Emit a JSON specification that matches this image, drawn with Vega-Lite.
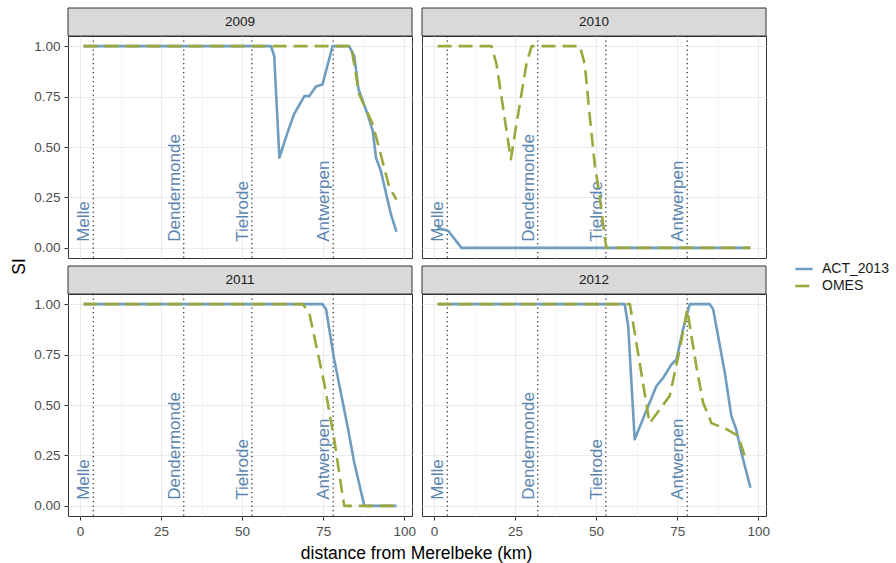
{
  "$schema": "https://vega.github.io/schema/vega-lite/v6.json",
  "background": "white",
  "padding": {"left": 10, "top": 7, "right": 10, "bottom": 5},
  "autosize": {"type": "pad"},
  "config": {
    "font": "Liberation Sans",
    "view": {"stroke": "#333333", "strokeWidth": 1},
    "axis": {"domain": false, "grid": true, "labelFont": "Liberation Sans", "labelFontSize": 13.5, "labelColor": "#4d4d4d", "tickColor": "#333333", "tickSize": 4, "tickWidth": 1, "labelPadding": 4, "labelOverlap": false, "labelFlush": false, "titleFont": "Liberation Sans", "titleFontSize": 17.5, "titleFontWeight": "normal", "titleColor": "#000000"}
  },
  "datasets": {
    "places": [
      {"place": "Melle", "km": 4.1},
      {"place": "Dendermonde", "km": 32.0},
      {"place": "Tielrode", "km": 53.0},
      {"place": "Antwerpen", "km": 78.1}
    ],
    "si": [
      {"year": "2009", "model": "ACT_2013", "km": 1.1, "SI": 1},
      {"year": "2009", "model": "ACT_2013", "km": 58.9, "SI": 1},
      {"year": "2009", "model": "ACT_2013", "km": 59.9, "SI": 0.95},
      {"year": "2009", "model": "ACT_2013", "km": 61.5, "SI": 0.447},
      {"year": "2009", "model": "ACT_2013", "km": 64.0, "SI": 0.571},
      {"year": "2009", "model": "ACT_2013", "km": 66.0, "SI": 0.662},
      {"year": "2009", "model": "ACT_2013", "km": 69.2, "SI": 0.752},
      {"year": "2009", "model": "ACT_2013", "km": 70.7, "SI": 0.752},
      {"year": "2009", "model": "ACT_2013", "km": 72.8, "SI": 0.8},
      {"year": "2009", "model": "ACT_2013", "km": 74.8, "SI": 0.81},
      {"year": "2009", "model": "ACT_2013", "km": 77.9, "SI": 1},
      {"year": "2009", "model": "ACT_2013", "km": 83.0, "SI": 1},
      {"year": "2009", "model": "ACT_2013", "km": 84.6, "SI": 0.95},
      {"year": "2009", "model": "ACT_2013", "km": 85.9, "SI": 0.786},
      {"year": "2009", "model": "ACT_2013", "km": 88.7, "SI": 0.662},
      {"year": "2009", "model": "ACT_2013", "km": 90.3, "SI": 0.579},
      {"year": "2009", "model": "ACT_2013", "km": 91.3, "SI": 0.447},
      {"year": "2009", "model": "ACT_2013", "km": 92.8, "SI": 0.381},
      {"year": "2009", "model": "ACT_2013", "km": 94.7, "SI": 0.249},
      {"year": "2009", "model": "ACT_2013", "km": 95.9, "SI": 0.167},
      {"year": "2009", "model": "ACT_2013", "km": 97.6, "SI": 0.08},
      {"year": "2010", "model": "ACT_2013", "km": 1.1, "SI": 0.1},
      {"year": "2010", "model": "ACT_2013", "km": 4.4, "SI": 0.084},
      {"year": "2010", "model": "ACT_2013", "km": 8.5, "SI": 0},
      {"year": "2010", "model": "ACT_2013", "km": 97.6, "SI": 0},
      {"year": "2011", "model": "ACT_2013", "km": 1.1, "SI": 1},
      {"year": "2011", "model": "ACT_2013", "km": 74.8, "SI": 1},
      {"year": "2011", "model": "ACT_2013", "km": 75.9, "SI": 0.974},
      {"year": "2011", "model": "ACT_2013", "km": 78.4, "SI": 0.726},
      {"year": "2011", "model": "ACT_2013", "km": 82.5, "SI": 0.396},
      {"year": "2011", "model": "ACT_2013", "km": 84.6, "SI": 0.214},
      {"year": "2011", "model": "ACT_2013", "km": 85.1, "SI": 0.18},
      {"year": "2011", "model": "ACT_2013", "km": 87.7, "SI": 0},
      {"year": "2011", "model": "ACT_2013", "km": 97.6, "SI": 0},
      {"year": "2012", "model": "ACT_2013", "km": 1.1, "SI": 1},
      {"year": "2012", "model": "ACT_2013", "km": 58.8, "SI": 1},
      {"year": "2012", "model": "ACT_2013", "km": 59.9, "SI": 0.89},
      {"year": "2012", "model": "ACT_2013", "km": 61.9, "SI": 0.33},
      {"year": "2012", "model": "ACT_2013", "km": 68.6, "SI": 0.594},
      {"year": "2012", "model": "ACT_2013", "km": 70.7, "SI": 0.635},
      {"year": "2012", "model": "ACT_2013", "km": 73.2, "SI": 0.7},
      {"year": "2012", "model": "ACT_2013", "km": 74.8, "SI": 0.726},
      {"year": "2012", "model": "ACT_2013", "km": 76.8, "SI": 0.874},
      {"year": "2012", "model": "ACT_2013", "km": 78.9, "SI": 1},
      {"year": "2012", "model": "ACT_2013", "km": 85.0, "SI": 1},
      {"year": "2012", "model": "ACT_2013", "km": 86.1, "SI": 0.975},
      {"year": "2012", "model": "ACT_2013", "km": 89.7, "SI": 0.66},
      {"year": "2012", "model": "ACT_2013", "km": 91.7, "SI": 0.446},
      {"year": "2012", "model": "ACT_2013", "km": 93.2, "SI": 0.38},
      {"year": "2012", "model": "ACT_2013", "km": 94.8, "SI": 0.264},
      {"year": "2012", "model": "ACT_2013", "km": 97.6, "SI": 0.09},
      {"year": "2009", "model": "OMES", "km": 1.1, "SI": 1},
      {"year": "2009", "model": "OMES", "km": 83.6, "SI": 1},
      {"year": "2009", "model": "OMES", "km": 84.6, "SI": 0.909},
      {"year": "2009", "model": "OMES", "km": 86.1, "SI": 0.761},
      {"year": "2009", "model": "OMES", "km": 90.3, "SI": 0.613},
      {"year": "2009", "model": "OMES", "km": 93.3, "SI": 0.43},
      {"year": "2009", "model": "OMES", "km": 95.4, "SI": 0.3},
      {"year": "2009", "model": "OMES", "km": 97.6, "SI": 0.24},
      {"year": "2010", "model": "OMES", "km": 1.1, "SI": 1},
      {"year": "2010", "model": "OMES", "km": 17.7, "SI": 1},
      {"year": "2010", "model": "OMES", "km": 19.3, "SI": 0.91},
      {"year": "2010", "model": "OMES", "km": 23.7, "SI": 0.439},
      {"year": "2010", "model": "OMES", "km": 25.4, "SI": 0.61},
      {"year": "2010", "model": "OMES", "km": 28.5, "SI": 0.91},
      {"year": "2010", "model": "OMES", "km": 30.1, "SI": 1},
      {"year": "2010", "model": "OMES", "km": 45.0, "SI": 1},
      {"year": "2010", "model": "OMES", "km": 46.5, "SI": 0.91},
      {"year": "2010", "model": "OMES", "km": 48.0, "SI": 0.66},
      {"year": "2010", "model": "OMES", "km": 49.6, "SI": 0.41},
      {"year": "2010", "model": "OMES", "km": 50.9, "SI": 0.28},
      {"year": "2010", "model": "OMES", "km": 52.7, "SI": 0.05},
      {"year": "2010", "model": "OMES", "km": 53.2, "SI": 0},
      {"year": "2010", "model": "OMES", "km": 97.6, "SI": 0},
      {"year": "2011", "model": "OMES", "km": 1.1, "SI": 1},
      {"year": "2011", "model": "OMES", "km": 68.7, "SI": 1},
      {"year": "2011", "model": "OMES", "km": 70.7, "SI": 0.957},
      {"year": "2011", "model": "OMES", "km": 75.3, "SI": 0.61},
      {"year": "2011", "model": "OMES", "km": 78.4, "SI": 0.33},
      {"year": "2011", "model": "OMES", "km": 81.0, "SI": 0.05},
      {"year": "2011", "model": "OMES", "km": 81.5, "SI": 0},
      {"year": "2011", "model": "OMES", "km": 97.6, "SI": 0},
      {"year": "2012", "model": "OMES", "km": 1.1, "SI": 1},
      {"year": "2012", "model": "OMES", "km": 60.4, "SI": 1},
      {"year": "2012", "model": "OMES", "km": 61.4, "SI": 0.907},
      {"year": "2012", "model": "OMES", "km": 66.5, "SI": 0.41},
      {"year": "2012", "model": "OMES", "km": 72.7, "SI": 0.545},
      {"year": "2012", "model": "OMES", "km": 75.8, "SI": 0.776},
      {"year": "2012", "model": "OMES", "km": 78.1, "SI": 0.974},
      {"year": "2012", "model": "OMES", "km": 80.9, "SI": 0.693},
      {"year": "2012", "model": "OMES", "km": 83.0, "SI": 0.511},
      {"year": "2012", "model": "OMES", "km": 85.6, "SI": 0.41},
      {"year": "2012", "model": "OMES", "km": 90.2, "SI": 0.38},
      {"year": "2012", "model": "OMES", "km": 93.8, "SI": 0.347},
      {"year": "2012", "model": "OMES", "km": 95.8, "SI": 0.25},
      {"year": "2012", "model": "OMES", "km": 97.6, "SI": 0.26}
    ]
  },
  "concat": [
    {
      "width": 344, "height": 222,
      "layer": [
        {"data": {"name": "places"}, "mark": {"type": "rule", "color": "#222222", "strokeWidth": 1.2, "strokeDash": [1.2, 3.3]},
         "encoding": {"x": {"field": "km", "type": "quantitative", "scale": {"domain": [-3.7, 102.4], "nice": false, "zero": false},
           "axis": {"values": [0, 12.5, 25, 37.5, 50, 62.5, 75, 87.5, 100], "grid": true, "labels": false, "ticks": false, "title": null,
             "gridColor": {"condition": {"test": "datum.value % 25 === 0", "value": "#ebebeb"}, "value": "#f4f4f4"},
             "gridWidth": {"condition": {"test": "datum.value % 25 === 0", "value": 1.1}, "value": 0.8}}}}},
        {"data": {"name": "places"}, "mark": {"type": "text", "angle": 270, "align": "left", "baseline": "bottom", "fontSize": 17, "color": "#5b85b0"},
         "encoding": {"x": {"field": "km", "type": "quantitative", "scale": {"domain": [-3.7, 102.4], "nice": false, "zero": false}},
           "y": {"datum": 0.03, "type": "quantitative", "scale": {"domain": [-0.05, 1.05], "nice": false, "zero": false},
             "axis": {"values": [0, 0.125, 0.25, 0.375, 0.5, 0.625, 0.75, 0.875, 1], "grid": true, "format": ".2f", "labelExpr": "datum.value % 0.25 === 0 ? datum.label : ''",
               "gridColor": {"condition": {"test": "datum.value % 0.25 === 0", "value": "#ebebeb"}, "value": "#f4f4f4"},
               "gridWidth": {"condition": {"test": "datum.value % 0.25 === 0", "value": 1.1}, "value": 0.8},
               "tickColor": {"condition": {"test": "datum.value % 0.25 === 0", "value": "#333333"}, "value": "rgba(0,0,0,0)"},
               "title": "SI", "titleY": 230, "titlePadding": 5}},
           "text": {"field": "place"}}},
        {"data": {"name": "si"}, "transform": [{"filter": "datum.year === '2009'"}],
         "mark": {"type": "line", "strokeWidth": 2.6, "strokeJoin": "round"},
         "encoding": {"x": {"field": "km", "type": "quantitative", "scale": {"domain": [-3.7, 102.4], "nice": false, "zero": false}},
           "y": {"field": "SI", "type": "quantitative", "scale": {"domain": [-0.05, 1.05], "nice": false, "zero": false}},
           "color": {"field": "model", "type": "nominal", "scale": {"domain": ["ACT_2013", "OMES"], "range": ["#6f9dbf", "#9ba83c"]},
             "legend": {"title": null, "orient": "none", "legendX": 726, "legendY": 223, "symbolType": "stroke", "symbolStrokeWidth": 2.6, "symbolSize": 300, "labelFontSize": 14, "labelColor": "#1a1a1a", "rowPadding": -2, "padding": 0, "labelOffset": 8}},
           "strokeDash": {"field": "model", "type": "nominal", "scale": {"domain": ["ACT_2013", "OMES"], "range": [[1, 0], [14, 7]]},
             "legend": {"title": null, "orient": "none", "legendX": 726, "legendY": 223, "symbolType": "stroke", "symbolStrokeWidth": 2.6, "symbolSize": 300, "labelFontSize": 14, "labelColor": "#1a1a1a", "rowPadding": -2, "padding": 0, "labelOffset": 8}}}},
        {"data": {"values": [{"year": "2009"}]}, "mark": {"type": "rect", "fill": "#d9d9d9", "stroke": "#333333", "strokeWidth": 1},
         "encoding": {"x": {"datum": -3.7, "type": "quantitative", "scale": {"domain": [-3.7, 102.4], "nice": false, "zero": false}}, "x2": {"datum": 102.4},
           "y": {"datum": 1.05, "type": "quantitative", "scale": {"domain": [-0.05, 1.05], "nice": false, "zero": false}}, "y2": {"datum": 1.1887}}},
        {"data": {"values": [{"year": "2009"}]}, "mark": {"type": "text", "fontSize": 13.5, "color": "#1a1a1a", "baseline": "middle", "align": "center"},
         "encoding": {"x": {"datum": 49.35, "type": "quantitative", "scale": {"domain": [-3.7, 102.4], "nice": false, "zero": false}},
           "y": {"datum": 1.1194, "type": "quantitative", "scale": {"domain": [-0.05, 1.05], "nice": false, "zero": false}},
           "text": {"field": "year"}}}
      ]
    },
    {
      "width": 344, "height": 222,
      "layer": [
        {"data": {"name": "places"}, "mark": {"type": "rule", "color": "#222222", "strokeWidth": 1.2, "strokeDash": [1.2, 3.3]},
         "encoding": {"x": {"field": "km", "type": "quantitative", "scale": {"domain": [-3.7, 102.4], "nice": false, "zero": false},
           "axis": {"values": [0, 12.5, 25, 37.5, 50, 62.5, 75, 87.5, 100], "grid": true, "labels": false, "ticks": false, "title": null,
             "gridColor": {"condition": {"test": "datum.value % 25 === 0", "value": "#ebebeb"}, "value": "#f4f4f4"},
             "gridWidth": {"condition": {"test": "datum.value % 25 === 0", "value": 1.1}, "value": 0.8}}}}},
        {"data": {"name": "places"}, "mark": {"type": "text", "angle": 270, "align": "left", "baseline": "bottom", "fontSize": 17, "color": "#5b85b0"},
         "encoding": {"x": {"field": "km", "type": "quantitative", "scale": {"domain": [-3.7, 102.4], "nice": false, "zero": false}},
           "y": {"datum": 0.03, "type": "quantitative", "scale": {"domain": [-0.05, 1.05], "nice": false, "zero": false},
             "axis": {"values": [0, 0.125, 0.25, 0.375, 0.5, 0.625, 0.75, 0.875, 1], "grid": true, "labels": false, "ticks": false, "title": null,
               "gridColor": {"condition": {"test": "datum.value % 0.25 === 0", "value": "#ebebeb"}, "value": "#f4f4f4"},
               "gridWidth": {"condition": {"test": "datum.value % 0.25 === 0", "value": 1.1}, "value": 0.8}}},
           "text": {"field": "place"}}},
        {"data": {"name": "si"}, "transform": [{"filter": "datum.year === '2010'"}],
         "mark": {"type": "line", "strokeWidth": 2.6, "strokeJoin": "round"},
         "encoding": {"x": {"field": "km", "type": "quantitative", "scale": {"domain": [-3.7, 102.4], "nice": false, "zero": false}},
           "y": {"field": "SI", "type": "quantitative", "scale": {"domain": [-0.05, 1.05], "nice": false, "zero": false}},
           "color": {"field": "model", "type": "nominal", "scale": {"domain": ["ACT_2013", "OMES"], "range": ["#6f9dbf", "#9ba83c"]},
             "legend": {"title": null, "orient": "none", "legendX": 726, "legendY": 223, "symbolType": "stroke", "symbolStrokeWidth": 2.6, "symbolSize": 300, "labelFontSize": 14, "labelColor": "#1a1a1a", "rowPadding": -2, "padding": 0, "labelOffset": 8}},
           "strokeDash": {"field": "model", "type": "nominal", "scale": {"domain": ["ACT_2013", "OMES"], "range": [[1, 0], [14, 7]]},
             "legend": {"title": null, "orient": "none", "legendX": 726, "legendY": 223, "symbolType": "stroke", "symbolStrokeWidth": 2.6, "symbolSize": 300, "labelFontSize": 14, "labelColor": "#1a1a1a", "rowPadding": -2, "padding": 0, "labelOffset": 8}}}},
        {"data": {"values": [{"year": "2010"}]}, "mark": {"type": "rect", "fill": "#d9d9d9", "stroke": "#333333", "strokeWidth": 1},
         "encoding": {"x": {"datum": -3.7, "type": "quantitative", "scale": {"domain": [-3.7, 102.4], "nice": false, "zero": false}}, "x2": {"datum": 102.4},
           "y": {"datum": 1.05, "type": "quantitative", "scale": {"domain": [-0.05, 1.05], "nice": false, "zero": false}}, "y2": {"datum": 1.1887}}},
        {"data": {"values": [{"year": "2010"}]}, "mark": {"type": "text", "fontSize": 13.5, "color": "#1a1a1a", "baseline": "middle", "align": "center"},
         "encoding": {"x": {"datum": 49.35, "type": "quantitative", "scale": {"domain": [-3.7, 102.4], "nice": false, "zero": false}},
           "y": {"datum": 1.1194, "type": "quantitative", "scale": {"domain": [-0.05, 1.05], "nice": false, "zero": false}},
           "text": {"field": "year"}}}
      ]
    },
    {
      "width": 344, "height": 222,
      "layer": [
        {"data": {"name": "places"}, "mark": {"type": "rule", "color": "#222222", "strokeWidth": 1.2, "strokeDash": [1.2, 3.3]},
         "encoding": {"x": {"field": "km", "type": "quantitative", "scale": {"domain": [-3.7, 102.4], "nice": false, "zero": false},
           "axis": {"values": [0, 12.5, 25, 37.5, 50, 62.5, 75, 87.5, 100], "grid": true, "labelExpr": "datum.value % 25 === 0 ? datum.label : ''",
             "gridColor": {"condition": {"test": "datum.value % 25 === 0", "value": "#ebebeb"}, "value": "#f4f4f4"},
             "gridWidth": {"condition": {"test": "datum.value % 25 === 0", "value": 1.1}, "value": 0.8},
             "tickColor": {"condition": {"test": "datum.value % 25 === 0", "value": "#333333"}, "value": "rgba(0,0,0,0)"},
             "title": "distance from Merelbeke (km)", "titleX": 348, "titlePadding": 7}}}},
        {"data": {"name": "places"}, "mark": {"type": "text", "angle": 270, "align": "left", "baseline": "bottom", "fontSize": 17, "color": "#5b85b0"},
         "encoding": {"x": {"field": "km", "type": "quantitative", "scale": {"domain": [-3.7, 102.4], "nice": false, "zero": false}},
           "y": {"datum": 0.03, "type": "quantitative", "scale": {"domain": [-0.05, 1.05], "nice": false, "zero": false},
             "axis": {"values": [0, 0.125, 0.25, 0.375, 0.5, 0.625, 0.75, 0.875, 1], "grid": true, "format": ".2f", "labelExpr": "datum.value % 0.25 === 0 ? datum.label : ''",
               "gridColor": {"condition": {"test": "datum.value % 0.25 === 0", "value": "#ebebeb"}, "value": "#f4f4f4"},
               "gridWidth": {"condition": {"test": "datum.value % 0.25 === 0", "value": 1.1}, "value": 0.8},
               "tickColor": {"condition": {"test": "datum.value % 0.25 === 0", "value": "#333333"}, "value": "rgba(0,0,0,0)"},
               "title": null}},
           "text": {"field": "place"}}},
        {"data": {"name": "si"}, "transform": [{"filter": "datum.year === '2011'"}],
         "mark": {"type": "line", "strokeWidth": 2.6, "strokeJoin": "round"},
         "encoding": {"x": {"field": "km", "type": "quantitative", "scale": {"domain": [-3.7, 102.4], "nice": false, "zero": false}},
           "y": {"field": "SI", "type": "quantitative", "scale": {"domain": [-0.05, 1.05], "nice": false, "zero": false}},
           "color": {"field": "model", "type": "nominal", "scale": {"domain": ["ACT_2013", "OMES"], "range": ["#6f9dbf", "#9ba83c"]},
             "legend": {"title": null, "orient": "none", "legendX": 726, "legendY": 223, "symbolType": "stroke", "symbolStrokeWidth": 2.6, "symbolSize": 300, "labelFontSize": 14, "labelColor": "#1a1a1a", "rowPadding": -2, "padding": 0, "labelOffset": 8}},
           "strokeDash": {"field": "model", "type": "nominal", "scale": {"domain": ["ACT_2013", "OMES"], "range": [[1, 0], [14, 7]]},
             "legend": {"title": null, "orient": "none", "legendX": 726, "legendY": 223, "symbolType": "stroke", "symbolStrokeWidth": 2.6, "symbolSize": 300, "labelFontSize": 14, "labelColor": "#1a1a1a", "rowPadding": -2, "padding": 0, "labelOffset": 8}}}},
        {"data": {"values": [{"year": "2011"}]}, "mark": {"type": "rect", "fill": "#d9d9d9", "stroke": "#333333", "strokeWidth": 1},
         "encoding": {"x": {"datum": -3.7, "type": "quantitative", "scale": {"domain": [-3.7, 102.4], "nice": false, "zero": false}}, "x2": {"datum": 102.4},
           "y": {"datum": 1.05, "type": "quantitative", "scale": {"domain": [-0.05, 1.05], "nice": false, "zero": false}}, "y2": {"datum": 1.1887}}},
        {"data": {"values": [{"year": "2011"}]}, "mark": {"type": "text", "fontSize": 13.5, "color": "#1a1a1a", "baseline": "middle", "align": "center"},
         "encoding": {"x": {"datum": 49.35, "type": "quantitative", "scale": {"domain": [-3.7, 102.4], "nice": false, "zero": false}},
           "y": {"datum": 1.1194, "type": "quantitative", "scale": {"domain": [-0.05, 1.05], "nice": false, "zero": false}},
           "text": {"field": "year"}}}
      ]
    },
    {
      "width": 344, "height": 222,
      "layer": [
        {"data": {"name": "places"}, "mark": {"type": "rule", "color": "#222222", "strokeWidth": 1.2, "strokeDash": [1.2, 3.3]},
         "encoding": {"x": {"field": "km", "type": "quantitative", "scale": {"domain": [-3.7, 102.4], "nice": false, "zero": false},
           "axis": {"values": [0, 12.5, 25, 37.5, 50, 62.5, 75, 87.5, 100], "grid": true, "labelExpr": "datum.value % 25 === 0 ? datum.label : ''",
             "gridColor": {"condition": {"test": "datum.value % 25 === 0", "value": "#ebebeb"}, "value": "#f4f4f4"},
             "gridWidth": {"condition": {"test": "datum.value % 25 === 0", "value": 1.1}, "value": 0.8},
             "tickColor": {"condition": {"test": "datum.value % 25 === 0", "value": "#333333"}, "value": "rgba(0,0,0,0)"},
             "title": null}}}},
        {"data": {"name": "places"}, "mark": {"type": "text", "angle": 270, "align": "left", "baseline": "bottom", "fontSize": 17, "color": "#5b85b0"},
         "encoding": {"x": {"field": "km", "type": "quantitative", "scale": {"domain": [-3.7, 102.4], "nice": false, "zero": false}},
           "y": {"datum": 0.03, "type": "quantitative", "scale": {"domain": [-0.05, 1.05], "nice": false, "zero": false},
             "axis": {"values": [0, 0.125, 0.25, 0.375, 0.5, 0.625, 0.75, 0.875, 1], "grid": true, "labels": false, "ticks": false, "title": null,
               "gridColor": {"condition": {"test": "datum.value % 0.25 === 0", "value": "#ebebeb"}, "value": "#f4f4f4"},
               "gridWidth": {"condition": {"test": "datum.value % 0.25 === 0", "value": 1.1}, "value": 0.8}}},
           "text": {"field": "place"}}},
        {"data": {"name": "si"}, "transform": [{"filter": "datum.year === '2012'"}],
         "mark": {"type": "line", "strokeWidth": 2.6, "strokeJoin": "round"},
         "encoding": {"x": {"field": "km", "type": "quantitative", "scale": {"domain": [-3.7, 102.4], "nice": false, "zero": false}},
           "y": {"field": "SI", "type": "quantitative", "scale": {"domain": [-0.05, 1.05], "nice": false, "zero": false}},
           "color": {"field": "model", "type": "nominal", "scale": {"domain": ["ACT_2013", "OMES"], "range": ["#6f9dbf", "#9ba83c"]},
             "legend": {"title": null, "orient": "none", "legendX": 726, "legendY": 223, "symbolType": "stroke", "symbolStrokeWidth": 2.6, "symbolSize": 300, "labelFontSize": 14, "labelColor": "#1a1a1a", "rowPadding": -2, "padding": 0, "labelOffset": 8}},
           "strokeDash": {"field": "model", "type": "nominal", "scale": {"domain": ["ACT_2013", "OMES"], "range": [[1, 0], [14, 7]]},
             "legend": {"title": null, "orient": "none", "legendX": 726, "legendY": 223, "symbolType": "stroke", "symbolStrokeWidth": 2.6, "symbolSize": 300, "labelFontSize": 14, "labelColor": "#1a1a1a", "rowPadding": -2, "padding": 0, "labelOffset": 8}}}},
        {"data": {"values": [{"year": "2012"}]}, "mark": {"type": "rect", "fill": "#d9d9d9", "stroke": "#333333", "strokeWidth": 1},
         "encoding": {"x": {"datum": -3.7, "type": "quantitative", "scale": {"domain": [-3.7, 102.4], "nice": false, "zero": false}}, "x2": {"datum": 102.4},
           "y": {"datum": 1.05, "type": "quantitative", "scale": {"domain": [-0.05, 1.05], "nice": false, "zero": false}}, "y2": {"datum": 1.1887}}},
        {"data": {"values": [{"year": "2012"}]}, "mark": {"type": "text", "fontSize": 13.5, "color": "#1a1a1a", "baseline": "middle", "align": "center"},
         "encoding": {"x": {"datum": 49.35, "type": "quantitative", "scale": {"domain": [-3.7, 102.4], "nice": false, "zero": false}},
           "y": {"datum": 1.1194, "type": "quantitative", "scale": {"domain": [-0.05, 1.05], "nice": false, "zero": false}},
           "text": {"field": "year"}}}
      ]
    }
  ],
  "columns": 2,
  "spacing": {"row": 36, "column": 10},
  "bounds": "flush"
}
